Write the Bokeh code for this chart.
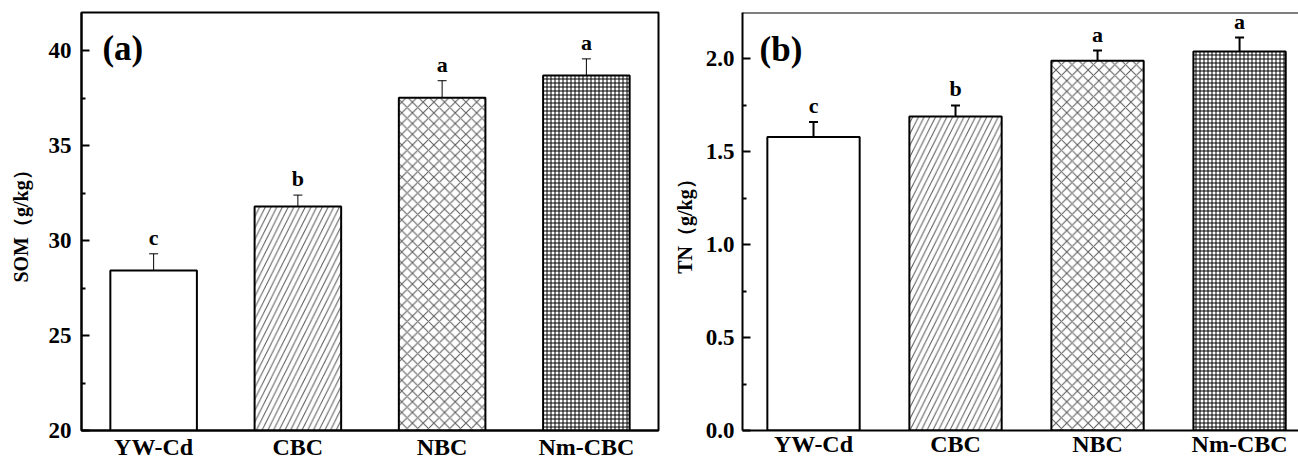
from bokeh.plotting import figure
from bokeh.models import ColumnDataSource, FixedTicker, Whisker, TeeHead, Span, Range1d, Label
from bokeh.layouts import row
from bokeh.embed import file_html
from bokeh.resources import INLINE
from bokeh.core.properties import value

# ---------------- data ----------------
categories = ["YW-Cd", "CBC", "NBC", "Nm-CBC"]
som_mean = [28.42, 31.79, 37.51, 38.68]
som_err = [0.88, 0.60, 0.90, 0.88]
som_letters = ["c", "b", "a", "a"]
tn_mean = [1.58, 1.69, 1.99, 2.04]
tn_err = [0.08, 0.06, 0.055, 0.075]
tn_letters = ["c", "b", "a", "a"]
hatch_patterns = [" ", "/", "x", "+"]
hatch_scales = [1, 11.4, 10.7, 4.0]
hatch_colors = ["black", "#555555", "#555555", "black"]
som_ticks = [20, 25, 30, 35, 40]
som_minor = [22.5, 27.5, 32.5, 37.5]
tn_ticks = [0.0, 0.5, 1.0, 1.5, 2.0]
tn_minor = [0.25, 0.75, 1.25, 1.75]

SERIF = "Liberation Serif"


def panel(means, errs, letters, ylabel, y0, y1, x1, ticks, minor, fmt,
          width, bl, br, bb, bar_w, err_w, lab_standoff, tag, tag_x, tag_y, full_frame,
          ylab_standoff, tick_standoff):
    xs = list(range(1, len(categories) + 1))
    src = ColumnDataSource(dict(
        x=xs, top=means, upper=[m + e for m, e in zip(means, errs)],
        lower=[m - e for m, e in zip(means, errs)], letter=letters,
        hp=hatch_patterns, hs=hatch_scales, hc=hatch_colors,
    ))
    p = figure(width=width, height=462, output_backend="svg", toolbar_location=None,
               x_range=Range1d(0.5, x1), y_range=Range1d(y0, y1),
               min_border_left=bl, min_border_right=br, min_border_top=12, min_border_bottom=bb)
    p.background_fill_color = "white"
    p.border_fill_color = "white"
    p.grid.visible = False
    if full_frame:
        p.outline_line_color = "black"
        p.outline_line_width = 2
    else:
        p.outline_line_color = None
        p.add_layout(Span(location=y1, dimension="width", line_color="black", line_width=2))

    p.vbar(x="x", top="top", bottom=y0, width=bar_w, source=src,
           fill_color="white", line_color="black", line_width=2,
           hatch_pattern="hp", hatch_scale="hs", hatch_color="hc", hatch_weight=1)

    w = Whisker(source=src, base="x", upper="upper", lower="lower", line_width=err_w,
                line_color="black",
                upper_head=TeeHead(size=9, line_width=err_w, line_color="black"),
                lower_head=TeeHead(size=9, line_width=err_w, line_color="black"))
    p.add_layout(w)

    p.text(x="x", y="upper", text="letter", source=src, text_align="center",
           text_baseline="bottom", y_offset=-4, text_font=value(SERIF),
           text_font_style="bold", text_font_size="22px", text_color="black")

    p.add_layout(Label(x=tag_x, y=tag_y, text=tag, text_align="left", text_baseline="middle",
                       text_font=SERIF, text_font_style="bold",
                       text_font_size="35px", text_color="black"))

    ax = p.yaxis[0]
    ax.ticker = FixedTicker(ticks=ticks, minor_ticks=minor)
    ax.major_label_overrides = {t: fmt(t) for t in ticks}
    ax.major_tick_in = 8
    ax.major_tick_out = 0
    ax.minor_tick_in = 4
    ax.minor_tick_out = 0
    ax.major_tick_line_width = 2
    ax.minor_tick_line_width = 2
    ax.major_tick_line_color = "black"
    ax.minor_tick_line_color = "black"
    ax.axis_line_width = 2
    ax.axis_line_color = "black"
    ax.major_label_standoff = tick_standoff
    ax.major_label_text_font = SERIF
    ax.major_label_text_font_style = "bold"
    ax.major_label_text_font_size = "23px"
    ax.major_label_text_color = "black"
    ax.axis_label = ylabel
    ax.axis_label_text_font = SERIF
    ax.axis_label_text_font_style = "bold"
    ax.axis_label_text_font_size = "20px"
    ax.axis_label_text_color = "black"
    ax.axis_label_standoff = ylab_standoff

    bx = p.xaxis[0]
    bx.ticker = FixedTicker(ticks=xs)
    bx.major_label_overrides = {x: c for x, c in zip(xs, categories)}
    bx.major_tick_in = 0
    bx.major_tick_out = 0
    bx.minor_tick_in = 0
    bx.minor_tick_out = 0
    bx.axis_line_width = 2
    bx.axis_line_color = "black"
    bx.major_label_standoff = lab_standoff
    bx.major_label_text_font = SERIF
    bx.major_label_text_font_style = "bold"
    bx.major_label_text_font_size = "24px"
    bx.major_label_text_color = "black"
    return p


pa = panel(som_mean, som_err, som_letters, "SOM（g/kg）", 20, 42, 4.5, som_ticks, som_minor,
           lambda t: str(int(t)), 665, 81, 7, 32, 0.6, 1, 3, "(a)", 0.645, 40.1, True, 14, 10)
pb = panel(tn_mean, tn_err, tn_letters, "TN（g/kg）", 0, 2.25, 4.415, tn_ticks, tn_minor,
           lambda t: f"{t:.1f}", 633, 77, 0, 29, 0.65, 2, 0, "(b)", 0.62, 2.05, False, 7, 8)

layout = row(pa, pb)
open("out.html", "w").write(file_html(layout, INLINE))
